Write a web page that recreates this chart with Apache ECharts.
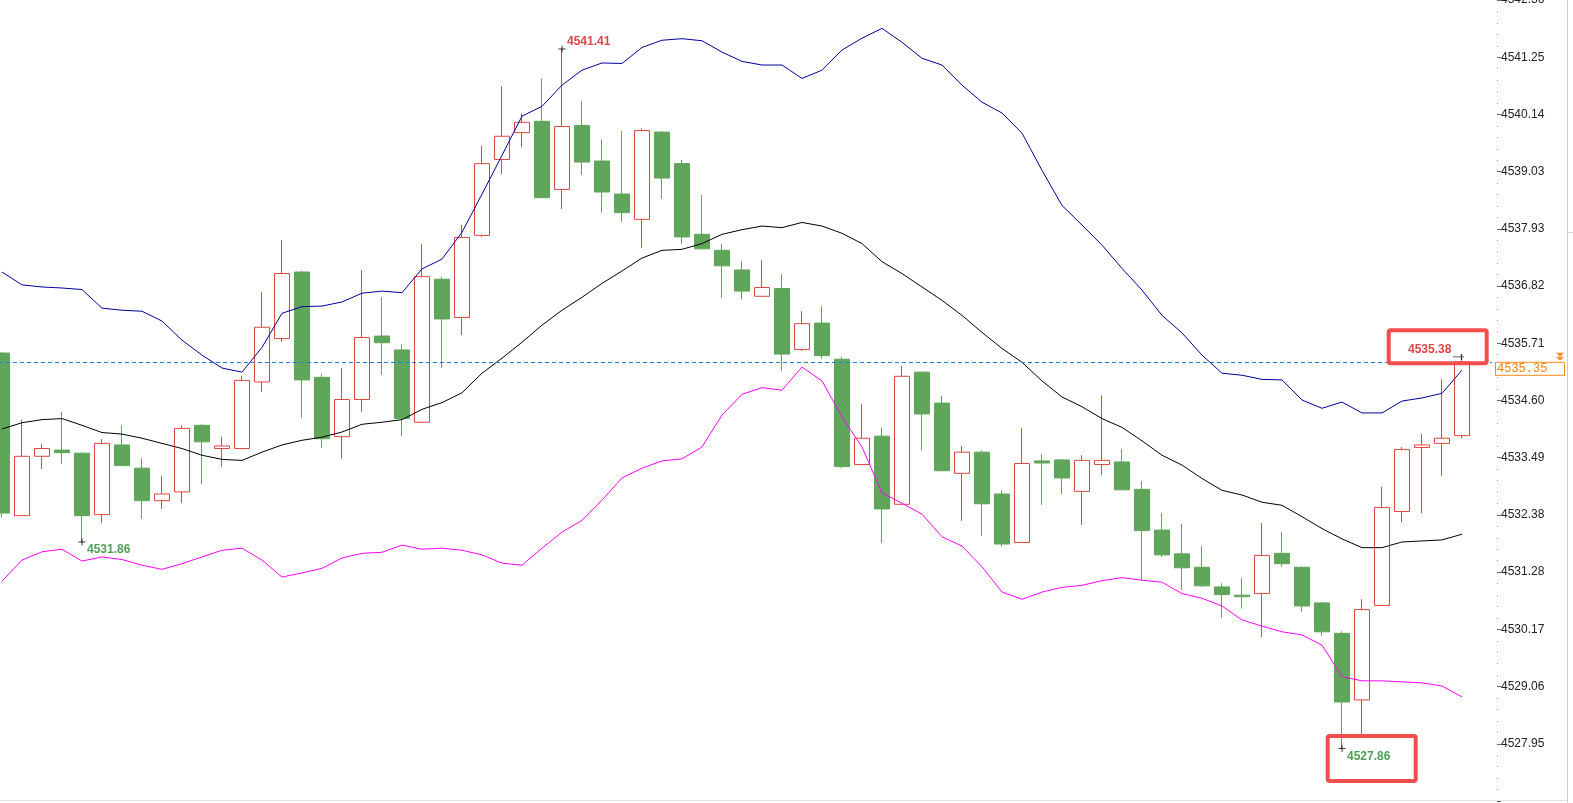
<!DOCTYPE html>
<html><head><meta charset="utf-8">
<script src="https://cdn.jsdelivr.net/npm/echarts@6.0.0/dist/echarts.min.js"></script>
<style>html,body{margin:0;padding:0;background:#fff;overflow:hidden}#c{width:1573px;height:803px}</style>
</head><body><div id="c"></div>
<script>
// ---- data ----
const openP  = [4535.52,4532.37,4533.52,4533.64,4533.58,4532.39,4533.74,4533.29,4532.66,4532.83,4534.12,4533.67,4533.67,4534.96,4535.80,4537.09,4535.05,4533.90,4534.62,4535.85,4535.58,4534.18,4536.95,4536.21,4537.80,4539.27,4539.79,4540.01,4538.69,4539.93,4539.24,4538.60,4538.11,4539.80,4539.19,4537.82,4537.51,4537.13,4536.62,4536.77,4535.59,4536.10,4535.40,4533.36,4533.91,4532.59,4535.15,4534.55,4533.19,4533.60,4532.79,4531.85,4533.43,4533.45,4532.84,4533.36,4533.41,4532.88,4532.09,4531.63,4531.37,4530.99,4530.83,4530.86,4531.64,4531.37,4530.68,4530.09,4528.80,4530.63,4532.45,4533.69,4533.77,4533.92];
const closeP = [4532.42,4533.52,4533.67,4533.59,4532.37,4533.77,4533.34,4532.66,4532.79,4534.06,4533.80,4533.72,4534.99,4536.02,4537.06,4535.00,4533.86,4534.62,4535.82,4535.72,4534.25,4537.00,4536.18,4537.76,4539.19,4539.72,4539.99,4538.53,4539.91,4539.22,4538.64,4538.24,4539.83,4538.91,4537.77,4537.54,4537.21,4536.72,4536.79,4535.50,4536.09,4535.47,4533.32,4533.87,4532.50,4535.07,4534.34,4533.24,4533.60,4532.60,4531.82,4533.38,4533.39,4533.10,4533.44,4533.44,4532.87,4532.08,4531.61,4531.36,4531.01,4530.84,4530.80,4531.60,4531.44,4530.62,4530.12,4528.76,4530.55,4532.53,4533.65,4533.74,4533.87,4535.35];
const lowP   = [4532.34,4532.37,4533.27,4533.37,4531.86,4532.23,4533.33,4532.31,4532.50,4532.62,4532.98,4533.32,4533.66,4534.77,4535.74,4534.26,4533.68,4533.48,4534.38,4535.10,4533.92,4534.17,4535.23,4535.87,4537.77,4538.99,4539.51,4538.52,4538.31,4538.97,4538.24,4538.06,4537.56,4538.51,4537.64,4537.53,4536.59,4536.56,4536.61,4535.18,4535.56,4535.41,4533.29,4533.35,4531.84,4532.58,4533.63,4533.23,4532.27,4531.98,4531.77,4531.84,4532.58,4532.79,4532.19,4533.16,4532.86,4531.12,4531.57,4530.93,4530.99,4530.39,4530.57,4530.02,4531.38,4530.51,4530.04,4527.86,4528.12,4530.62,4532.24,4532.42,4533.14,4533.87];
const highP  = [4535.54,4534.23,4533.76,4534.38,4533.60,4533.85,4534.12,4533.48,4533.14,4534.12,4534.14,4533.90,4535.08,4536.70,4537.71,4537.11,4535.12,4535.23,4537.13,4536.60,4535.69,4537.63,4537.00,4538.00,4539.54,4540.69,4540.16,4540.84,4541.41,4540.40,4539.66,4539.82,4539.87,4539.82,4539.26,4538.58,4537.63,4537.30,4537.32,4537.05,4536.33,4536.43,4535.45,4534.53,4534.08,4535.27,4535.16,4534.69,4533.72,4533.63,4532.86,4534.07,4533.56,4533.47,4533.54,4534.70,4533.66,4533.04,4532.42,4532.21,4531.78,4531.06,4531.16,4532.23,4532.05,4531.39,4530.70,4530.13,4530.75,4532.93,4533.70,4533.95,4535.01,4535.38];
const upperBand = [4537.09,4536.84,4536.80,4536.78,4536.75,4536.39,4536.35,4536.33,4536.14,4535.77,4535.48,4535.23,4535.15,4535.63,4536.29,4536.42,4536.43,4536.51,4536.68,4536.72,4536.69,4537.15,4537.34,4537.86,4538.60,4539.35,4540.11,4540.30,4540.71,4541.00,4541.14,4541.13,4541.44,4541.58,4541.61,4541.57,4541.35,4541.17,4541.10,4541.10,4540.84,4541.00,4541.39,4541.62,4541.81,4541.54,4541.23,4541.10,4540.71,4540.38,4540.17,4539.78,4539.06,4538.38,4538.00,4537.61,4537.16,4536.74,4536.25,4535.91,4535.48,4535.13,4535.09,4535.01,4535.00,4534.61,4534.45,4534.57,4534.36,4534.36,4534.59,4534.65,4534.74,4535.19];
const midBand = [4534.05,4534.17,4534.23,4534.25,4534.12,4533.98,4533.95,4533.87,4533.77,4533.67,4533.54,4533.46,4533.44,4533.60,4533.74,4533.83,4533.89,4533.99,4534.14,4534.18,4534.23,4534.43,4534.56,4534.75,4535.13,4535.42,4535.73,4536.06,4536.35,4536.60,4536.87,4537.11,4537.36,4537.51,4537.53,4537.64,4537.82,4537.91,4537.98,4537.95,4538.05,4537.98,4537.84,4537.64,4537.29,4537.06,4536.80,4536.54,4536.25,4535.92,4535.61,4535.34,4534.98,4534.67,4534.48,4534.25,4534.08,4533.82,4533.54,4533.35,4533.09,4532.86,4532.77,4532.63,4532.57,4532.35,4532.12,4531.92,4531.75,4531.75,4531.86,4531.88,4531.90,4532.01];
const lowerBand = [4531.10,4531.51,4531.67,4531.72,4531.49,4531.57,4531.52,4531.41,4531.33,4531.44,4531.57,4531.70,4531.74,4531.51,4531.18,4531.26,4531.35,4531.55,4531.64,4531.66,4531.80,4531.72,4531.74,4531.70,4531.61,4531.45,4531.41,4531.74,4532.05,4532.28,4532.67,4533.10,4533.29,4533.43,4533.47,4533.70,4534.32,4534.72,4534.85,4534.80,4535.25,4534.98,4534.28,4533.70,4532.81,4532.61,4532.40,4531.96,4531.78,4531.38,4530.89,4530.75,4530.89,4530.98,4531.02,4531.11,4531.17,4531.12,4531.08,4530.86,4530.77,4530.62,4530.35,4530.23,4530.12,4530.06,4529.86,4529.25,4529.17,4529.17,4529.15,4529.13,4529.07,4528.86];
const extremeIdx = [28, 4, 67, 73];
const extremeVal = [4541.41, 4531.86, 4527.86, 4535.38];
const lastPrice = 4535.35;
const yMin = 4526.842, yInterval = 1.1084, yMax = 4542.3596;
const categories = openP.map((_, i) => String(i + 1)).concat(['']);

// ---- chart ----
const UP = '#E2463F', DOWN = '#5FA55A', RED_TXT = '#E04545', GREEN_TXT = '#4E9F56';
const candleData = openP.map((o, i) => [o, closeP[i], lowP[i], highP[i]]);
const chart = echarts.init(document.getElementById('c'), null, {renderer: 'canvas'});

const crossSym = 'path://M0,3.5L7,3.5M3.5,0L3.5,7';
const lastSym = 'path://M0,3L11,3M8.5,0L8.5,6';

chart.setOption({
  animation: false,
  grid: {left: -8, top: 0, width: 1500, height: 801, outerBoundsMode: 'none', containLabel: false},
  xAxis: {type: 'category', data: categories, boundaryGap: true, show: false},
  yAxis: {
    type: 'value', position: 'right', offset: 5,
    min: yMin, max: yMax, interval: yInterval,
    splitLine: {show: false}, axisLine: {show: false},
    axisTick: {show: true, length: 4, lineStyle: {color: '#666'}},
    minorTick: {show: true, splitNumber: 5, length: 1, lineStyle: {color: '#999'}},
    axisLabel: {margin: 4, color: '#222', fontSize: 12, fontFamily: '"Liberation Sans", Arial, sans-serif',
      formatter: v => v.toFixed(2), showMinLabel: false, showMaxLabel: true}
  },
  series: [
    {
      type: 'candlestick', data: candleData, barWidth: 16,
      itemStyle: {color: '#fff', color0: DOWN, borderColor: UP, borderColor0: DOWN, borderWidth: 1},
      markLine: {silent: true, symbol: 'none', label: {show: false},
        lineStyle: {color: '#1E7FDB', type: [4, 3], width: 1}, data: [{yAxis: lastPrice}]}
    },
    {type: 'line', data: upperBand, symbol: 'none', lineStyle: {color: '#00009C', width: 1}, z: 3},
    {type: 'line', data: midBand, symbol: 'none', lineStyle: {color: '#000000', width: 1}, z: 3},
    {type: 'line', data: lowerBand, symbol: 'none', lineStyle: {color: '#FF00FF', width: 1}, z: 3},
    {
      type: 'scatter', z: 4,
      data: extremeIdx.map((ix, k) => k === 3
        ? {value: [ix, extremeVal[k]], symbol: lastSym, symbolSize: [11, 6], symbolOffset: [-3.5, -3.4]}
        : {value: [ix, extremeVal[k]]}),
      symbol: crossSym, symbolSize: 7,
      itemStyle: {color: 'rgba(0,0,0,0)', borderColor: '#000', borderWidth: 1}
    }
  ]
});

// ---- annotations placed through the chart's own scales ----
const toPx = (i, v) => chart.convertToPixel({seriesIndex: 0}, [i, v]);
const labelCfg = [
  {dx: 5, dy: -7.8, align: 'left', color: RED_TXT},
  {dx: 5, dy: 7.7, align: 'left', color: GREEN_TXT},
  {dx: 5, dy: 8.3, align: 'left', color: GREEN_TXT},
  {dx: -10.6, dy: -11, align: 'right', color: RED_TXT}
];
const g = [];
extremeIdx.forEach((ix, k) => {
  const p = toPx(ix, extremeVal[k]);
  const c = labelCfg[k];
  g.push({type: 'text', x: p[0] + c.dx, y: p[1] + c.dy, z: 20,
    style: {text: extremeVal[k].toFixed(2), fill: c.color, font: 'bold 12px "Liberation Sans", Arial, sans-serif',
      align: c.align, textAlign: c.align, verticalAlign: 'middle', textVerticalAlign: 'middle'}});
});
// highlight boxes
const pA = toPx(extremeIdx[3], extremeVal[3]);
const pB = toPx(extremeIdx[2], extremeVal[2]);
g.push({type: 'rect', z: 21, shape: {x: pA[0] - 73.3, y: pA[1] - 30, width: 98, height: 33, r: 2},
  style: {fill: 'none', stroke: '#F24E4E', lineWidth: 4}});
g.push({type: 'rect', z: 21, shape: {x: pB[0] - 14.3, y: pB[1] - 12.4, width: 88, height: 45, r: 2},
  style: {fill: 'none', stroke: '#F24E4E', lineWidth: 4}});
// current price tag
const py = toPx(0, lastPrice)[1];
g.push({type: 'rect', z: 22, shape: {x: 1495.5, y: py + 0.5, width: 69, height: 13},
  style: {fill: '#fff', stroke: '#FF8A1C', lineWidth: 1}});
g.push({type: 'text', z: 23, x: 1497, y: py + 7.5,
  style: {text: lastPrice.toFixed(2), fill: '#FF7F00', font: '12px "Liberation Mono", "DejaVu Sans Mono", monospace',
    align: 'left', textAlign: 'left', verticalAlign: 'middle', textVerticalAlign: 'middle'}});
g.push({type: 'polygon', z: 23, shape: {points: [[1556, py - 9], [1564, py - 9], [1560, py - 5]]}, style: {fill: '#FF8A1C'}});
g.push({type: 'polygon', z: 23, shape: {points: [[1556, py - 5], [1564, py - 5], [1560, py - 1]]}, style: {fill: '#FF8A1C'}});
// window frame lines
g.push({type: 'line', z: 5, shape: {x1: 1567.5, y1: 0, x2: 1567.5, y2: 803}, style: {stroke: '#C9CED6', lineWidth: 1}});
g.push({type: 'line', z: 5, shape: {x1: 1568, y1: 232.5, x2: 1573, y2: 232.5}, style: {stroke: '#D5D9E0', lineWidth: 1}});
g.push({type: 'line', z: 5, shape: {x1: 0, y1: 800.5, x2: 1567, y2: 800.5}, style: {stroke: '#E2E2E2', lineWidth: 1}});
chart.setOption({graphic: {elements: g}});
</script>
</body></html>
